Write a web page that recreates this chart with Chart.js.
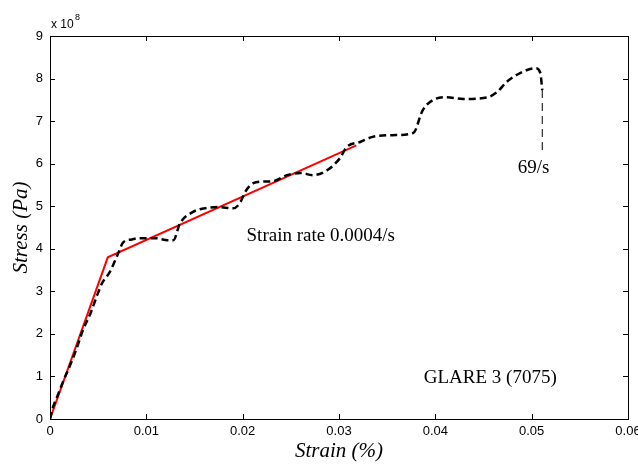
<!DOCTYPE html>
<html>
<head>
<meta charset="utf-8">
<script src="https://cdn.jsdelivr.net/npm/chart.js@4/dist/chart.umd.min.js"></script>
<style>
  html, body { margin: 0; padding: 0; background: #fff; }
  #wrap { width: 638px; height: 464px; }
</style>
</head>
<body>
<div id="wrap"><canvas id="myChart" width="638" height="464"></canvas></div>
<script>
// stress values are in units of 1e8 Pa (axis multiplier "x 10^8")
var xTicks = [0, 0.01, 0.02, 0.03, 0.04, 0.05, 0.06];
var yTicks = [0, 1, 2, 3, 4, 5, 6, 7, 8, 9];

// measured curve (black dashed)
var testStrain = [0, 0.0003, 0.0007, 0.0014, 0.0023, 0.0028, 0.0034, 0.0042, 0.0048, 0.0054, 0.0062, 0.007, 0.0076, 0.0085, 0.0093, 0.011, 0.0122, 0.0128,
  0.0135, 0.0148, 0.016, 0.0175, 0.019, 0.0197, 0.0203, 0.0211, 0.0222, 0.0232, 0.0246, 0.026, 0.0273, 0.0288, 0.0301,
  0.0308, 0.0322, 0.0335, 0.0356, 0.0377, 0.0387, 0.0398, 0.0412, 0.0429, 0.0454, 0.0464, 0.0474, 0.0488, 0.0504, 0.0509, 0.0511];
var testStress = [0, 0.27, 0.5, 0.9, 1.38, 1.68, 2.08, 2.48, 2.85, 3.19, 3.45, 3.85, 4.15, 4.22, 4.25, 4.25, 4.2, 4.2,
  4.6, 4.86, 4.95, 4.98, 4.95, 5.07, 5.35, 5.54, 5.58, 5.59, 5.73, 5.78, 5.73, 5.85, 6.13,
  6.39, 6.51, 6.63, 6.67, 6.72, 7.26, 7.5, 7.56, 7.52, 7.56, 7.68, 7.92, 8.13, 8.24, 8.13, 7.73];

// thin drop at the end of the curve
var tailStrain = [0.0511, 0.0511];
var tailStress = [7.73, 6.32];

// bilinear fit (red)
var fitStrain = [0, 0.006, 0.0318];
var fitStress = [0, 3.8, 6.43];

function pts(xs, ys) {
  return xs.map(function (x, i) { return { x: x, y: ys[i] }; });
}

var labels = [
  { text: "Strain rate 0.0004/s", x: 0.0281, y: 4.3 },
  { text: "69/s", x: 0.0502, y: 5.9 },
  { text: "GLARE 3 (7075)", x: 0.0457, y: 0.97 }
];

var frame = {
  id: "frame",
  afterDraw: function (chart) {
    var ctx = chart.ctx, a = chart.chartArea;
    var xs = chart.scales.x, ys = chart.scales.y;
    ctx.save();
    ctx.strokeStyle = "#000";
    ctx.lineWidth = 1;
    ctx.strokeRect(Math.round(a.left) + 0.5, Math.round(a.top) + 0.5, Math.round(a.right - a.left), Math.round(a.bottom - a.top));
    ctx.beginPath();
    xTicks.forEach(function (v) {
      var px = Math.round(xs.getPixelForValue(v)) + 0.5;
      ctx.moveTo(px, a.bottom); ctx.lineTo(px, a.bottom - 5);
      ctx.moveTo(px, a.top); ctx.lineTo(px, a.top + 5);
    });
    yTicks.forEach(function (v) {
      var py = Math.round(ys.getPixelForValue(v)) + 0.5;
      ctx.moveTo(a.left, py); ctx.lineTo(a.left + 5, py);
      ctx.moveTo(a.right, py); ctx.lineTo(a.right - 5, py);
    });
    ctx.stroke();

    ctx.fillStyle = "#000";
    ctx.font = "19px 'Liberation Serif'";
    ctx.textAlign = "center";
    ctx.textBaseline = "middle";
    labels.forEach(function (l) {
      ctx.fillText(l.text, xs.getPixelForValue(l.x), ys.getPixelForValue(l.y));
    });

    ctx.font = "12px 'Liberation Sans'";
    ctx.textAlign = "left";
    ctx.textBaseline = "alphabetic";
    ctx.fillText("x 10", a.left + 1, a.top - 8);
    ctx.font = "9px 'Liberation Sans'";
    ctx.fillText("8", a.left + 25, a.top - 16);
    ctx.restore();
  }
};

new Chart("myChart", {
  type: "line",
  data: {
    datasets: [{
      data: pts(testStrain, testStress),
      borderColor: "#000",
      borderWidth: 2.5,
      borderDash: [7, 4],
      cubicInterpolationMode: "monotone",
      pointRadius: 0,
      fill: false
    }, {
      data: pts(tailStrain, tailStress),
      borderColor: "#000",
      borderWidth: 1,
      borderDash: [8, 5],
      pointRadius: 0,
      fill: false
    }, {
      data: pts(fitStrain, fitStress),
      borderColor: "#ff0000",
      borderWidth: 2,
      pointRadius: 0,
      fill: false
    }]
  },
  plugins: [frame],
  options: {
    responsive: false,
    animation: false,
    layout: { padding: { left: 0, right: 10, top: 36, bottom: 0 } },
    plugins: { legend: { display: false }, tooltip: { enabled: false } },
    scales: {
      x: {
        type: "linear",
        min: 0, max: 0.06,
        afterFit: function (s) { s.height = 45; s.paddingRight = 0; s.paddingLeft = 0; },
        afterBuildTicks: function (s) { s.ticks = xTicks.map(function (v) { return { value: v }; }); },
        grid: { display: false, drawTicks: false },
        border: { display: false },
        ticks: {
          color: "#000", padding: 5,
          font: { family: "'Liberation Sans'", size: 13 },
          callback: function (v) { return v === 0 ? "0" : String(Math.round(v * 100) / 100); }
        },
        title: {
          display: true, text: "Strain (%)", color: "#000", padding: { top: 0, bottom: 0 },
          font: { family: "'Liberation Serif'", size: 21, style: "italic" }
        }
      },
      y: {
        min: 0, max: 9,
        afterFit: function (s) { s.width = 50; s.paddingTop = 0; s.paddingBottom = 0; },
        afterBuildTicks: function (s) { s.ticks = yTicks.map(function (v) { return { value: v }; }); },
        grid: { display: false, drawTicks: false },
        border: { display: false },
        ticks: {
          color: "#000", padding: 7,
          font: { family: "'Liberation Sans'", size: 13 }
        },
        title: {
          display: true, text: "Stress (Pa)", color: "#000", padding: { top: 9, bottom: 0 },
          font: { family: "'Liberation Serif'", size: 21, style: "italic" }
        }
      }
    }
  }
});
</script>
</body>
</html>
